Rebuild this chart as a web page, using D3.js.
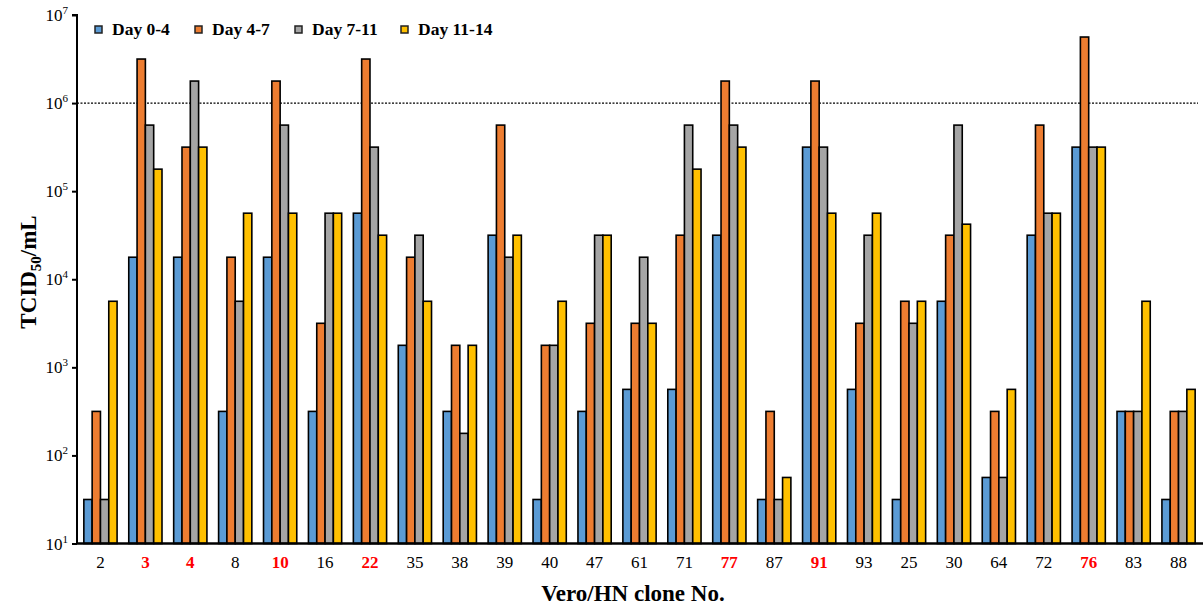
<!DOCTYPE html>
<meta charset="utf-8">
<script src="https://d3js.org/d3.v7.min.js"></script>
<style>
  body { margin: 0; background: #fff; }
  text { font-family: "Liberation Serif", "Times New Roman", serif; }
</style>
<div id="my_dataviz"></div>
<script>
// clone numbers along the x axis (red = selected clones)
var clones = ["2","3","4","8","10","16","22","35","38","39","40","47","61","71","77","87","91","93","25","30","64","72","76","83","88"];
var highlighted = ["3","4","10","22","77","91","76"];
var seriesNames = ["Day 0-4", "Day 4-7", "Day 7-11", "Day 11-14"];
var seriesColors = ["#5B9BD5", "#ED7D31", "#A5A5A5", "#FFC000"];

// TCID50/mL titres per clone
var day0_4   = [31.6, 17783, 17783, 316, 17783, 316, 56234, 1778, 316, 31623, 31.6, 316, 562, 562, 31623, 31.6, 316228, 562, 31.6, 5623, 56.2, 31623, 316228, 316, 31.6];
var day4_7   = [316, 3162278, 316228, 17783, 1778279, 3162, 3162278, 17783, 1778, 562341, 1778, 3162, 3162, 31623, 1778279, 316, 1778279, 3162, 5623, 31623, 316, 562341, 5623413, 316, 316];
var day7_11  = [31.6, 562341, 1778279, 5623, 562341, 56234, 316228, 31623, 178, 17783, 1778, 31623, 17783, 562341, 562341, 31.6, 316228, 31623, 3162, 562341, 56.2, 56234, 316228, 316, 316];
var day11_14 = [5623, 177828, 316228, 56234, 56234, 56234, 31623, 5623, 1778, 31623, 5623, 31623, 3162, 177828, 316228, 56.2, 56234, 56234, 5623, 42170, 562, 56234, 316228, 5623, 562];
var yTicks = [10, 100, 1000, 10000, 100000, 1000000, 10000000];
var threshold = 1000000;

var series = [day0_4, day4_7, day7_11, day11_14];
var table = clones.map(function(c, i) {
  return { clone: c, values: series.map(function(s, k) { return { key: k, value: s[i] }; }) };
});

var W = 1203, H = 606;
var margin = {top: 15, right: 2, bottom: 62, left: 77};

var svg = d3.select("#my_dataviz").append("svg")
  .attr("width", W).attr("height", H);

var x = d3.scaleBand()
  .domain(clones)
  .range([margin.left + 1, W - margin.right])
  .paddingInner(0.26)
  .paddingOuter(0.13);

var xs = d3.scaleBand()
  .domain(d3.range(series.length))
  .range([0, x.bandwidth()]);

var y = d3.scaleLog()
  .domain([10, 10000000])
  .range([H - margin.bottom - 0.5, margin.top]);

// dotted reference line at 10^6
svg.append("line")
  .attr("x1", margin.left).attr("x2", W - 5)
  .attr("y1", y(threshold)).attr("y2", y(threshold))
  .attr("stroke", "#000").attr("stroke-width", 1.2)
  .attr("stroke-dasharray", "2,1.5");

// bars
var groups = svg.selectAll("g.clone")
  .data(table)
  .enter().append("g")
    .attr("class", "clone")
    .attr("transform", function(d) { return "translate(" + x(d.clone) + ",0)"; });

groups.selectAll("rect")
  .data(function(d) { return d.values; })
  .enter().append("rect")
    .attr("x", function(d) { return xs(d.key); })
    .attr("y", function(d) { return y(d.value); })
    .attr("width", xs.bandwidth())
    .attr("height", function(d) { return y(10) - y(d.value); })
    .attr("fill", function(d) { return seriesColors[d.key]; })
    .attr("stroke", "#000")
    .attr("stroke-width", 1.6);

// y axis
var yAxis = svg.append("g")
  .attr("transform", "translate(" + margin.left + ",0)")
  .call(d3.axisLeft(y).tickValues(yTicks).tickSize(5).tickFormat(""));
yAxis.select(".domain").attr("stroke-width", 2).attr("d", "M-5," + y(10000000) + "H0V" + y(10));
yAxis.selectAll(".tick line").attr("stroke-width", 2);

var yLab = svg.append("g").selectAll("text")
  .data(yTicks)
  .enter().append("text")
    .attr("x", 68)
    .attr("y", function(d) { return y(d) + 6; })
    .attr("text-anchor", "end")
    .attr("font-size", "17px")
    .attr("fill", "#000");
yLab.append("tspan").text("10");
yLab.append("tspan").attr("font-size", "11px").attr("dy", -7)
  .text(function(d) { return Math.round(Math.log10(d)); });

// x axis
var xAxis = svg.append("g")
  .attr("transform", "translate(0," + y(10) + ")")
  .call(d3.axisBottom(x).tickSize(0).tickPadding(12));
xAxis.select(".domain").attr("stroke-width", 2.5).attr("d", "M" + margin.left + ",0H" + W);
xAxis.selectAll(".tick text")
  .attr("font-family", "Liberation Serif, serif")
  .attr("font-size", "17px")
  .attr("font-weight", function(d) { return highlighted.indexOf(d) >= 0 ? "bold" : "normal"; })
  .attr("fill", function(d) { return highlighted.indexOf(d) >= 0 ? "#FF0000" : "#000"; });

// axis titles
svg.append("text")
  .attr("x", 633).attr("y", 601)
  .attr("text-anchor", "middle")
  .attr("font-size", "23px").attr("font-weight", "bold")
  .text("Vero/HN clone No.");

var yt = svg.append("text")
  .attr("transform", "translate(36,272) rotate(-90)")
  .attr("text-anchor", "middle")
  .attr("font-size", "23px").attr("font-weight", "bold");
yt.append("tspan").text("TCID");
yt.append("tspan").attr("font-size", "15px").attr("dy", 5).text("50");
yt.append("tspan").attr("dy", -5).text("/mL");

// legend
var legendX = [95, 195, 295, 401];
var legend = svg.selectAll("g.legend")
  .data(seriesNames)
  .enter().append("g")
    .attr("class", "legend")
    .attr("transform", function(d, i) { return "translate(" + legendX[i] + ",26)"; });
legend.append("rect")
  .attr("width", 7).attr("height", 7)
  .attr("fill", function(d, i) { return seriesColors[i]; })
  .attr("stroke", "#222").attr("stroke-width", 1.5);
legend.append("text")
  .attr("x", 17).attr("y", 9)
  .attr("font-size", "17.5px").attr("font-weight", "bold")
  .text(function(d) { return d; });
</script>
